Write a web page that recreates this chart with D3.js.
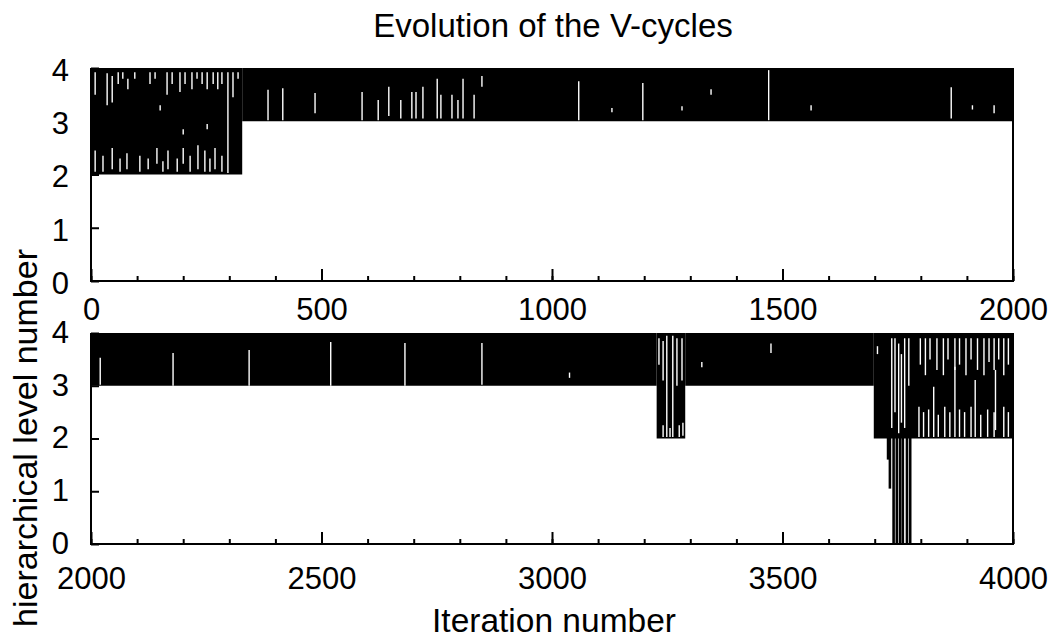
<!DOCTYPE html>
<html>
<head>
<meta charset="utf-8">
<script src="https://cdn.jsdelivr.net/npm/d3@7"></script>
<style>
  html, body { margin: 0; padding: 0; background: #fff; }
  svg { display: block; }
  text { font-family: "Liberation Sans", Arial, Helvetica, sans-serif; fill: #000; }
</style>
</head>
<body>
<svg id="chart" width="1060" height="639"></svg>
<script>
// Iteration ranges and the coarsest level each block of V-cycles reaches
// [startIteration, endIteration, coarsestLevel]
const topRuns = [
  [0, 328, 2],
  [328, 2000, 3]
];
const bottomRuns = [
  [2000, 3227, 3],
  [3227, 3289, 2],
  [3289, 3698, 3],
  [3698, 4000, 2]
];

// Single V-cycles that descend below the surrounding block: [iteration, coarsestLevel]
const deepCycles = [
  [3729, 1.6], [3733, 1.05], [3741, 0], [3748, 0],
  [3755, 0], [3761, 0], [3770, 0], [3777, 0]
];

// Interruptions inside the cycle bands: [iteration, upperLevel, lowerLevel]
const topGaps = [
  [9, 3.92, 3.5], [35, 3.9, 3.3], [46, 3.85, 3.35], [59, 3.92, 3.7], [69, 3.92, 3.8],
  [80, 3.8, 3.6], [95, 3.92, 3.8], [128, 3.92, 3.7], [139, 3.92, 3.8], [165, 3.92, 3.5],
  [176, 3.92, 3.7], [193, 3.92, 3.55], [204, 3.92, 3.7], [219, 3.92, 3.6], [230, 3.92, 3.8],
  [241, 3.92, 3.7], [252, 3.92, 3.6], [265, 3.92, 3.7], [275, 3.92, 3.6], [284, 3.92, 3.7],
  [297, 3.92, 2.03], [308, 3.92, 3.45], [319, 3.92, 3.8],
  [150, 3.3, 3.2], [200, 2.85, 2.75], [252, 2.95, 2.85],
  [9, 2.45, 2.05], [26, 2.35, 2.05], [46, 2.5, 2.1], [63, 2.3, 2.05], [78, 2.4, 2.1],
  [106, 2.35, 2.05], [124, 2.3, 2.1], [143, 2.5, 2.2], [156, 2.25, 2.05], [167, 2.45, 2.1],
  [187, 2.3, 2.05], [200, 2.5, 2.2], [215, 2.35, 2.05], [232, 2.55, 2.1], [247, 2.45, 2.05],
  [258, 2.3, 2.05], [269, 2.5, 2.1], [284, 2.35, 2.05],
  [384, 3.59, 3.02], [416, 3.62, 3.02], [486, 3.53, 3.15], [588, 3.55, 3.02], [623, 3.4, 3.02],
  [646, 3.65, 3.1], [672, 3.4, 3.05], [696, 3.55, 3.05], [705, 3.55, 3.05], [720, 3.65, 3.05],
  [751, 3.8, 3.05], [759, 3.5, 3.05], [783, 3.5, 3.05], [796, 3.4, 3.05], [807, 3.8, 3.05],
  [831, 3.5, 3.05], [848, 3.85, 3.65],
  [1058, 3.75, 3.02], [1130, 3.25, 3.17], [1197, 3.72, 3.02], [1282, 3.28, 3.2],
  [1345, 3.6, 3.5], [1470, 3.96, 3.02], [1562, 3.3, 3.2], [1866, 3.64, 3.05],
  [1912, 3.3, 3.22], [1959, 3.3, 3.15]
];
const bottomGaps = [
  [2020, 3.53, 3.02], [2178, 3.62, 3.0], [2343, 3.68, 3.0], [2520, 3.83, 3.0],
  [2681, 3.81, 3.0], [2848, 3.81, 3.02], [3038, 3.25, 3.15], [3325, 3.45, 3.35], [3475, 3.8, 3.62],
  [3232, 3.9, 3.4], [3241, 3.85, 3.1], [3249, 3.95, 2.03], [3262, 3.95, 2.03], [3271, 3.9, 3.0],
  [3282, 3.9, 3.1], [3241, 2.25, 2.03], [3256, 2.2, 2.03], [3276, 2.25, 2.03], [3284, 2.3, 2.05],
  [3706, 3.75, 3.6], [3737, 3.9, 2.2], [3744, 3.9, 2.5], [3752, 3.8, 2.1], [3758, 3.6, 2.3],
  [3765, 3.9, 2.2], [3774, 3.9, 3.0],
  [3799, 3.9, 3.4], [3810, 3.9, 3.2], [3820, 3.9, 3.5], [3835, 3.9, 3.3], [3849, 3.9, 3.2],
  [3859, 3.9, 3.5], [3874, 3.9, 3.3], [3884, 3.9, 3.4], [3898, 3.9, 3.2], [3909, 3.9, 3.5],
  [3923, 3.9, 3.3], [3937, 3.9, 3.2], [3948, 3.9, 3.45], [3959, 3.9, 3.3], [3969, 3.9, 3.5],
  [3980, 3.9, 3.2], [3990, 3.9, 3.4],
  [3828, 2.98, 2.03], [3874, 3.36, 2.03], [3918, 3.11, 2.03], [3962, 3.3, 2.16],
  [3796, 2.6, 2.03], [3806, 2.5, 2.03], [3817, 2.55, 2.03], [3838, 2.45, 2.03], [3852, 2.6, 2.03],
  [3863, 2.5, 2.03], [3884, 2.55, 2.03], [3895, 2.5, 2.03], [3909, 2.6, 2.03], [3930, 2.45, 2.03],
  [3945, 2.55, 2.03], [3959, 2.5, 2.03], [3980, 2.6, 2.03], [3990, 2.5, 2.03]
];

// Axis ticks
const levelTicks = [0, 1, 2, 3, 4];
const topMajorTicks = [0, 500, 1000, 1500, 2000];
const bottomMajorTicks = [2000, 2500, 3000, 3500, 4000];
const topMinorTicks = d3.range(0, 2001, 100);
const bottomMinorTicks = d3.range(2000, 4001, 100);

const titleText = "Evolution of the V-cycles";
const xTitle = "Iteration number";
const yTitle = "hierarchical level number";

const svg = d3.select("#chart");
const left = 91, right = 1013;

const panels = [
  { domain: [0, 2000], y0: 281, y4: 68, runs: topRuns, deep: [], gaps: topGaps,
    major: topMajorTicks, minor: topMinorTicks, labelPad: 17, levelDy: "0.4em" },
  { domain: [2000, 4000], y0: 544, y4: 333, runs: bottomRuns, deep: deepCycles, gaps: bottomGaps,
    major: bottomMajorTicks, minor: bottomMinorTicks, labelPad: 23, levelDy: "0.3em" }
];

panels.forEach(p => {
  const x = d3.scaleLinear().domain(p.domain).range([left, right]);
  const y = d3.scaleLinear().domain([0, 4]).range([p.y0, p.y4]);
  const g = svg.append("g");

  // dense blocks of cycles
  g.selectAll("rect.run").data(p.runs).join("rect")
    .attr("class", "run")
    .attr("x", d => x(d[0]))
    .attr("width", d => x(d[1]) - x(d[0]))
    .attr("y", y(4))
    .attr("height", d => y(d[2]) - y(4))
    .attr("fill", "#000");

  // cycles that reach deeper levels
  g.selectAll("line.deep").data(p.deep).join("line")
    .attr("class", "deep")
    .attr("x1", d => x(d[0])).attr("x2", d => x(d[0]))
    .attr("y1", y(4)).attr("y2", d => y(d[1]))
    .attr("stroke", "#000").attr("stroke-width", 2.6);

  // interruptions in the bands
  g.selectAll("line.gap").data(p.gaps).join("line")
    .attr("class", "gap")
    .attr("x1", d => x(d[0])).attr("x2", d => x(d[0]))
    .attr("y1", d => y(d[1])).attr("y2", d => y(d[2]))
    .attr("stroke", "#fff").attr("stroke-width", 1.4);

  // frame
  const frame = g.append("g").attr("stroke", "#000").attr("stroke-width", 2).attr("fill", "none");
  frame.append("path").attr("d", `M${left},${y(4)}V${y(0)}H${right}V${y(4)}`);

  // x axis: minor and major ticks pointing inward
  g.append("g").attr("transform", `translate(0,${y(0)})`)
    .call(d3.axisBottom(x).tickValues(p.minor).tickSize(-5).tickSizeOuter(0).tickFormat(""))
    .call(a => a.select(".domain").remove())
    .call(a => a.selectAll("line").attr("stroke-width", 2));
  g.append("g").attr("transform", `translate(0,${y(0)})`)
    .call(d3.axisBottom(x).tickValues(p.major).tickSize(-12).tickSizeOuter(0)
      .tickPadding(p.labelPad).tickFormat(d3.format("d")))
    .call(a => a.select(".domain").remove())
    .call(a => a.selectAll("line").attr("stroke-width", 2))
    .call(a => a.selectAll("text").attr("font-size", 31)
      .style("font-family", "'Liberation Sans', Arial, sans-serif"));

  // y axis
  g.append("g").attr("transform", `translate(${left},0)`)
    .call(d3.axisLeft(y).tickValues(levelTicks).tickSize(-8).tickSizeOuter(0)
      .tickPadding(22).tickFormat(d3.format("d")))
    .call(a => a.select(".domain").remove())
    .call(a => a.selectAll("line").attr("stroke-width", 2))
    .call(a => a.selectAll("text").attr("font-size", 31).attr("dy", p.levelDy)
      .style("font-family", "'Liberation Sans', Arial, sans-serif"));
});

svg.append("text").attr("x", 553).attr("y", 37)
  .attr("text-anchor", "middle").attr("font-size", 33).text(titleText);
svg.append("text").attr("x", 554).attr("y", 632)
  .attr("text-anchor", "middle").attr("font-size", 33.5).text(xTitle);
svg.append("text").attr("transform", "translate(37,438) rotate(-90)")
  .attr("text-anchor", "middle").attr("font-size", 34).text(yTitle);
</script>
</body>
</html>
